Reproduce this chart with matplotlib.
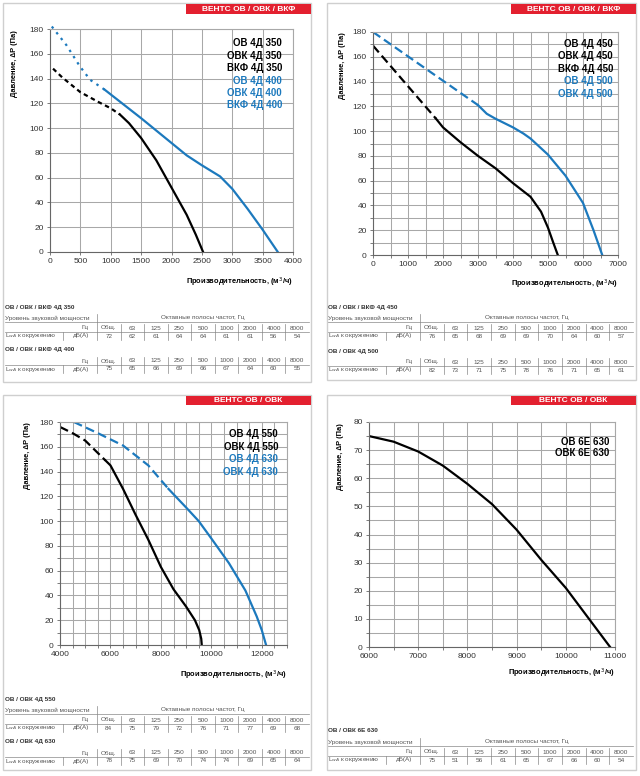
import matplotlib
matplotlib.use("Agg")
import matplotlib.pyplot as plt
from matplotlib.patches import Rectangle
from matplotlib.ticker import MultipleLocator

plt.rcParams['font.family'] = ['Liberation Sans', 'DejaVu Sans']

W, H = 640, 776
BLUE = "#1c79bd"
RED = "#e3202f"
GRID = "#a8a8a8"
TXT = "#555555"

# ---- кривые (м3/ч, Па) ----
# ОВ 4Д 350 / ОВ 4Д 400
q350_dash = [50, 200, 350, 500, 800, 1000, 1150]
p350_dash = [148, 141, 135, 129, 121, 116, 111]
q350 = [1150, 1300, 1500, 1750, 2000, 2250, 2400, 2520]
p350 = [111, 104, 92, 74, 52, 30, 14, 0]
q400_dot = [30, 270, 490, 660, 900]
p400_dot = [182, 167, 150, 139, 131]
q400 = [900, 1500, 2000, 2250, 2500, 2800, 3000, 3250, 3500, 3750]
p400 = [131, 108, 88, 78, 70, 61, 51, 35, 18, 0]

# ОВ 4Д 450 / ОВ 4Д 500
q450_dash = [0, 1800]
p450_dash = [169, 110]
q450 = [1800, 2000, 2500, 3000, 3500, 4000, 4500, 4800, 5000, 5150, 5280]
p450 = [110, 103, 91, 80, 70, 58, 47, 35, 22, 10, 0]
q500_dash = [0, 3000]
p500_dash = [180, 121]
q500 = [3000, 3250, 3500, 4000, 4300, 4500, 5000, 5500, 6000, 6300, 6550]
p500 = [121, 114, 110, 103, 98, 94, 81, 64, 42, 20, 0]

# ОВ 4Д 550 / ОВ 4Д 630
q550_dash = [4000, 4500, 5000, 5500, 5800]
p550_dash = [176, 171, 165, 155, 149]
q550 = [5800, 6000, 6500, 7000, 7500, 8000, 8500, 9000, 9350, 9520, 9600, 9620]
p550 = [149, 145, 126, 105, 85, 63, 45, 31, 20, 12, 5, 0]
q630_dash = [4550, 5500, 6500, 7500, 8300]
p630_dash = [180, 171, 161, 145, 126]
q630 = [8300, 9000, 9500, 10000, 10700, 11350, 11800, 12000, 12170]
p630 = [126, 111, 100, 86, 66, 44, 23, 12, 0]

# ОВ 6Е 630
q6e = [6000, 6500, 7000, 7500, 8000, 8500, 9000, 9500, 10000, 10450, 10900]
p6e = [75, 73, 69.5, 64.5, 58, 50.8, 41.7, 31, 21, 10.5, 0]

# ---- шум ----
bands = ["Общ.", "63", "125", "250", "500", "1000", "2000", "4000", "8000"]
snd_350 = [72, 62, 61, 64, 64, 61, 61, 56, 54]
snd_400 = [75, 65, 66, 69, 66, 67, 64, 60, 55]
snd_450 = [76, 65, 68, 69, 69, 70, 64, 60, 57]
snd_500 = [82, 73, 71, 75, 78, 76, 71, 65, 61]
snd_550 = [84, 75, 79, 72, 76, 71, 77, 69, 68]
snd_630 = [78, 75, 69, 70, 74, 74, 69, 65, 64]
snd_6e630 = [75, 51, 56, 61, 65, 67, 66, 60, 54]

fig = plt.figure(figsize=(W / 100, H / 100), dpi=100)
fig.patch.set_facecolor("white")

# фоновая ось в пикселях (y вниз)
bg = fig.add_axes([0, 0, 1, 1])
bg.set_xlim(0, W)
bg.set_ylim(H, 0)
bg.axis("off")


def panel_frame(x0, y0, x1, y1, hx0, hy0, hy1, title):
    bg.add_patch(Rectangle((x0, y0), x1 - x0, y1 - y0, fill=False, ec="#cfcfcf", lw=1))
    bg.add_patch(Rectangle((hx0, hy0), x1 - hx0, hy1 - hy0, color=RED, lw=0))
    bg.text((hx0 + x1) / 2, (hy0 + hy1) / 2 + 0.5, title, color="white", fontsize=6,
            fontweight="bold", ha="center", va="center")


def make_ax(l, t, r, b, xlim, ylim, xmaj, xmin, ymaj, ymin):
    ax = fig.add_axes([l / W, 1 - b / H, (r - l) / W, (b - t) / H])
    ax.set_xlim(*xlim)
    ax.set_ylim(*ylim)
    ax.xaxis.set_major_locator(MultipleLocator(xmaj))
    ax.xaxis.set_minor_locator(MultipleLocator(xmin))
    ax.yaxis.set_major_locator(MultipleLocator(ymaj))
    ax.yaxis.set_minor_locator(MultipleLocator(ymin))
    ax.grid(which="both", color=GRID, lw=0.75)
    ax.set_axisbelow(True)
    ax.tick_params(which="both", labelsize=6, labelcolor="#333333", color="#666666",
                   length=2.5, width=0.6, pad=2)
    for s in ["top", "right"]:
        ax.spines[s].set_color(GRID)
        ax.spines[s].set_linewidth(0.8)
    for s in ["left", "bottom"]:
        ax.spines[s].set_color("#666666")
        ax.spines[s].set_linewidth(0.8)
    return ax


def labels(ax, ylx, yly, xlx, xly):
    ax.text(ylx, yly, "Давление, ∆P (Па)", transform=bg.transData, rotation=90,
            fontsize=5.4, fontweight="bold", ha="center", va="top", clip_on=False)
    ax.text(xlx, xly, "Производительность, (м$^3$/ч)", transform=bg.transData,
            fontsize=5.4, fontweight="bold", ha="right", va="center", clip_on=False)


def legend(ax, x, y, step, items):
    for i, (s, c) in enumerate(items):
        ax.text(x, y + i * step, s, transform=bg.transData, color=c, fontsize=7,
                fontweight="bold", ha="right", va="center")


def table(x0, x1, y, title, vals, first):
    fs = 4.6
    bg.text(x0, y, title, fontsize=4.6, fontweight="bold", color="#333333", va="center")
    sep = x0 + 92
    cw = (x1 - sep) / 9
    if first:
        yh = y + 11
        bg.text(x0, yh, "Уровень звуковой мощности", fontsize=fs, color=TXT, va="center")
        bg.text((sep + x1) / 2, yh, "Октавные полосы частот, Гц", fontsize=fs, color=TXT,
                ha="center", va="center")
        bg.plot([x0, x1], [yh + 3.5] * 2, color="#888888", lw=0.5)
        ytop = yh - 4
        yg = yh + 10
    else:
        yg = y + 11
        ytop = yg - 4
    bg.text(sep - 8, yg, "Гц", fontsize=fs, color=TXT, ha="right", va="center")
    yl = yg + 4
    yd = yg + 8
    bg.plot([x0, x1], [yl, yl], color="#888888", lw=0.5)
    bg.text(x0, yd, "L$_{wA}$ к окружению", fontsize=fs, color=TXT, va="center")
    bg.text(sep - 8, yd, "дБ(А)", fontsize=fs, color=TXT, ha="right", va="center")
    bg.plot([x0 + 58] * 2, [yl, yd + 4], color="#888888", lw=0.5)
    bg.plot([sep] * 2, [ytop, yd + 4], color="#888888", lw=0.5)
    for i in range(9):
        cx = sep + cw * (i + 0.5)
        bg.text(cx, yg, bands[i], fontsize=fs, color=TXT, ha="center", va="center")
        bg.text(cx, yd, str(vals[i]), fontsize=fs, color=TXT, ha="center", va="center")
        if i > 0:
            bg.plot([sep + cw * i] * 2, [yg - 4, yd + 4], color="#888888", lw=0.5)


DASH_K = (0, (2, 1.6))
DOT_B = (0, (1.1, 2.2))
DASH_L = (0, (4, 2))
LW = 1.6

# ---- панель 1 ----
panel_frame(3, 3, 311, 382, 186, 4, 14, "ВЕНТС ОВ / ОВК / ВКФ")
ax1 = make_ax(50, 29, 293, 252, (0, 4000), (0, 180), 500, 500, 20, 20)
ax1.plot(q350_dash, p350_dash, color="black", lw=LW, ls=DASH_K)
ax1.plot(q350, p350, color="black", lw=LW)
ax1.plot(q400_dot, p400_dot, color=BLUE, lw=LW, ls=DOT_B, clip_on=False)
ax1.plot(q400, p400, color=BLUE, lw=LW)
labels(ax1, 15, 30, 293, 282)
legend(ax1, 282, 43.5, 12.4, [("ОВ 4Д 350", "black"), ("ОВК 4Д 350", "black"),
                              ("ВКФ 4Д 350", "black"), ("ОВ 4Д 400", BLUE),
                              ("ОВК 4Д 400", BLUE), ("ВКФ 4Д 400", BLUE)])
table(5, 309, 307, "ОВ / ОВК / ВКФ 4Д 350", snd_350, True)
table(5, 309, 350, "ОВ / ОВК / ВКФ 4Д 400", snd_400, False)

# ---- панель 2 ----
panel_frame(327, 3, 636, 380, 511, 4, 14, "ВЕНТС ОВ / ОВК / ВКФ")
ax2 = make_ax(373, 32, 618, 255, (0, 7000), (0, 180), 1000, 500, 20, 10)
ax2.plot(q450_dash, p450_dash, color="black", lw=LW, ls=DASH_L)
ax2.plot(q450, p450, color="black", lw=LW)
ax2.plot(q500_dash, p500_dash, color=BLUE, lw=LW, ls=DASH_L)
ax2.plot(q500, p500, color=BLUE, lw=LW)
labels(ax2, 342, 32, 618, 284)
legend(ax2, 613, 44, 12.4, [("ОВ 4Д 450", "black"), ("ОВК 4Д 450", "black"),
                            ("ВКФ 4Д 450", "black"), ("ОВ 4Д 500", BLUE),
                            ("ОВК 4Д 500", BLUE)])
table(328, 633, 307, "ОВ / ОВК / ВКФ 4Д 450", snd_450, True)
table(328, 633, 351, "ОВ / ОВК 4Д 500", snd_500, False)

# ---- панель 3 ----
panel_frame(3, 395, 311, 770, 186, 396, 405, "ВЕНТС ОВ / ОВК")
ax3 = make_ax(60, 422, 287, 645, (4000, 13000), (0, 180), 2000, 500, 20, 10)
ax3.plot(q550_dash, p550_dash, color="black", lw=LW, ls=DASH_L)
ax3.plot(q550, p550, color="black", lw=LW)
ax3.plot(q630_dash, p630_dash, color=BLUE, lw=LW, ls=DASH_L)
ax3.plot(q630, p630, color=BLUE, lw=LW)
labels(ax3, 28, 422, 287, 675)
legend(ax3, 278, 434, 12.6, [("ОВ 4Д 550", "black"), ("ОВК 4Д 550", "black"),
                             ("ОВ 4Д 630", BLUE), ("ОВК 4Д 630", BLUE)])
table(5, 309, 699, "ОВ / ОВК 4Д 550", snd_550, True)
table(5, 309, 742, "ОВ / ОВК 4Д 630", snd_630, False)

# ---- панель 4 ----
panel_frame(327, 395, 636, 770, 511, 396, 405, "ВЕНТС ОВ / ОВК")
ax4 = make_ax(369, 422, 615, 647, (6000, 11000), (0, 80), 1000, 500, 10, 5)
ax4.plot(q6e, p6e, color="black", lw=LW)
labels(ax4, 341, 423, 615, 673)
legend(ax4, 609, 442, 11.5, [("ОВ 6Е 630", "black"), ("ОВК 6Е 630", "black")])
table(328, 633, 731, "ОВ / ОВК 6Е 630", snd_6e630, True)

fig.savefig("out.png", dpi=100, facecolor="white")
